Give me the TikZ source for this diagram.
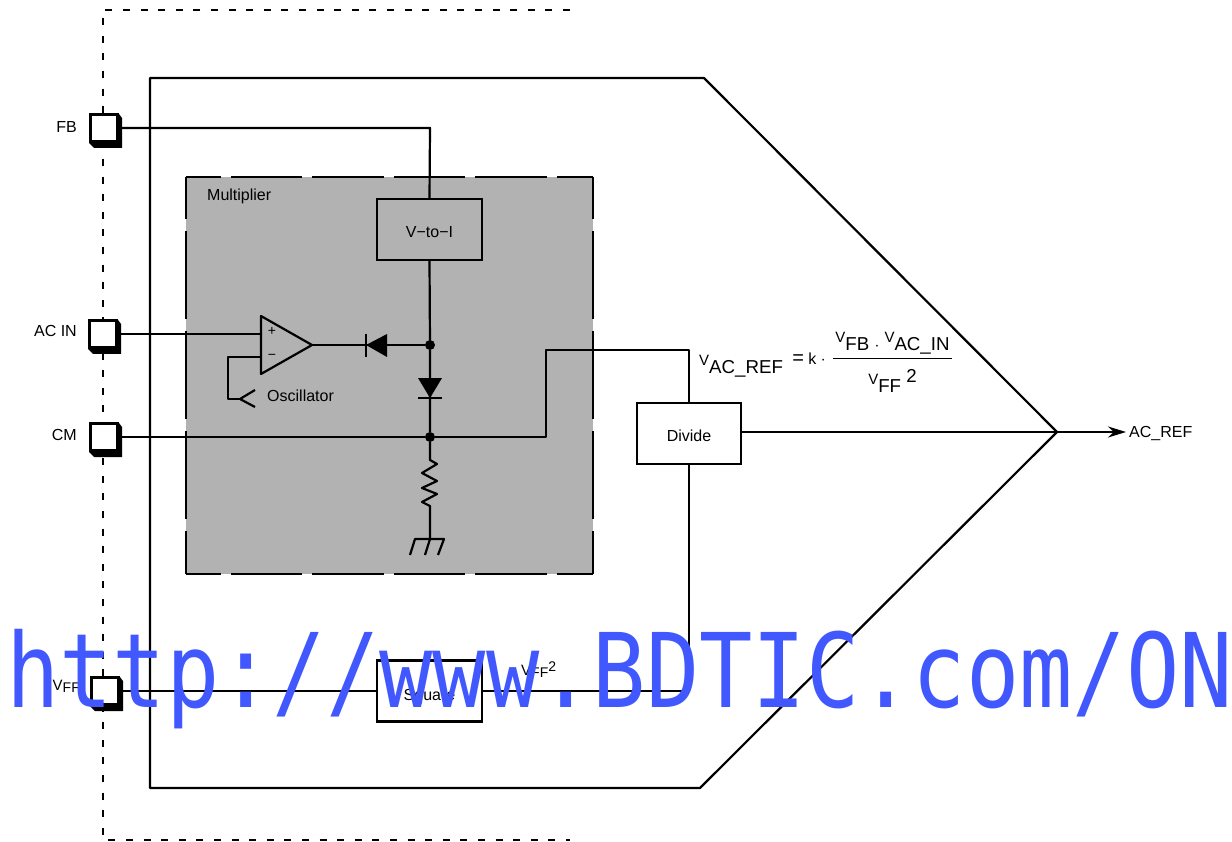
\documentclass[tikz,border=0pt]{standalone}
\usepackage{fontspec}
\setmainfont{Liberation Sans}
\newfontfamily\wmfont[FakeStretch=0.86]{DejaVu Sans Mono}
\usetikzlibrary{arrows.meta,calc,positioning}
\definecolor{mulgray}{HTML}{B2B2B2}
\definecolor{wmblue}{HTML}{4258FF}
\tikzset{
 wire/.style={line width=2.2pt,line join=round},
 hdash/.style={line width=2.2pt,dash pattern=on 71.4pt off 10pt,dash phase=36.4pt},
 vdash/.style={line width=2.2pt,dash pattern=on 88pt off 12pt,dash phase=46pt},
 blockbox/.style={draw,line width=2.2pt,minimum width=104.5pt,minimum height=61pt,inner sep=0pt,font=\fontsize{16}{16}\selectfont},
 pinbox/.style={draw,fill=white,line width=2.2pt,minimum size=27pt,inner sep=0pt},
 junction/.style={circle,fill=black,minimum size=10pt,inner sep=0pt},
 lbl/.style={inner sep=0pt,font=\fontsize{16}{16}\selectfont},
 eqn/.style={inner sep=0pt,font=\fontsize{18.7}{18.7}\selectfont}
}
\newcommand{\smallv}{\raisebox{8pt}{\fontsize{15}{15}\selectfont V}}
\newcommand{\pinat}[3]{
 \fill (#2,#3)++(-14,-14)--++(29,0)--++(3,4)--++(0,30)--++(-28,0)--++(-5,-5)--cycle;
 \node[pinbox] (#1) at (#2,#3) {};
}
\begin{document}
\begin{tikzpicture}[x=1pt,y=-1pt,>=stealth]
 \useasboundingbox (0,0) rectangle (1232,842);
 % package edge
 \draw[line width=2.2pt,dash pattern=on 7pt off 10.6pt] (570,10)--(103,10)--(103,840)--(570,840);
 % outer outline
 \draw[wire] (150,78)--(704,78)--(1057,432)--(700,788)--(150,788)--cycle;
 % multiplier block
 \fill[mulgray] (186,177) rectangle (593,574);
 \draw[hdash] (186,177)--(593,177);
 \draw[hdash] (186,574)--(593,574);
 \draw[vdash] (186,177)--(186,574);
 \draw[vdash] (593,177)--(593,574);
 \node[lbl,right] (mul) at (207,196) {Multiplier};

 \node[blockbox] (vtoi) at (429.5,229.5) {\smash{\raisebox{-8pt}{V\textminus to\textminus I}}};
 \node[blockbox] (divide) at (689,433.5) {\smash{\raisebox{-8pt}{Divide}}};
 \node[blockbox] (square) at (429.5,691) {\smash{\raisebox{-9.7pt}{Square}}};

 \coordinate (top) at (430,128);
 \coordinate (cmtop) at (546,350);
 \coordinate (divtop) at (689,350);
 \coordinate (divlow) at (689,691);
 \coordinate (apex) at (1057,432);
 \coordinate (acout) at (1126,432);
 \coordinate (ampin) at (261,334);

 \node[junction] (jtop) at (430,345) {};
 \node[junction] (jcm) at (430,437) {};
 \coordinate (cmup) at (546,437);

 % pins
 \pinat{fb}{104}{128}
 \pinat{acin}{103}{334}
 \pinat{cm}{104}{437}
 \pinat{vff}{105}{691}
 \draw[wire] (fb.east)--(top)--(vtoi.north);
 \draw[wire] (acin.east)--(ampin);
 \draw[wire] (cm.east)--(jcm)--(cmup)--(cmtop)--(divtop)--(divtop|-divide.north);
 \draw[wire] (vff.east)--(square.west);
 \draw[wire] (square.east)--(divlow)--(divlow|-divide.south);
 \draw[wire] (vtoi.south)--(jtop)--(jcm);
 \draw[wire] (divide.east|-apex)--(apex);
 \draw[wire,-{Stealth[length=18pt,width=11pt]}] (apex)--(acout);
 \node[lbl,left] (fblbl) at (77,127) {FB};
 \node[lbl,left] (acinlbl) at (77,331) {AC IN};
 \node[lbl,left] (cmlbl) at (77,435) {CM};
 \node[lbl,left] (vfflbl) at (80,686) {\raisebox{2pt}{\fontsize{15}{15}\selectfont V}\fontsize{14}{14}\selectfont FF};

 % amplifier
 \draw[wire,fill=mulgray] (261,316)--(312,345)--(261,374)--cycle;
 \node[lbl] (plus) at (272,331) {\fontsize{14}{14}\selectfont +};
 \node[lbl] (minus) at (272,357) {\fontsize{14}{14}\selectfont \textminus};
 \coordinate (fbk) at (228,357);
 \coordinate (fbkl) at (228,399);
 \coordinate (osc) at (240,399);
 \draw[wire] (261,357)--(fbk)--(fbkl)--(osc);
 \draw[wire] (255,390)--(osc)--(255,407);
 \node[lbl,right] (osclbl) at (267,396) {Oscillator};

 % diodes
 \draw[wire] (312,345)--(jtop);
 \fill (366,345)--(387,334)--(387,357)--cycle;
 \draw[wire] (366,334)--(366,357);
 \fill (430,398)--(418,378)--(442,378)--cycle;
 \draw[wire] (418,398)--(442,398);

 % resistor and ground
 \draw[wire] (jcm)--(430,460)--(437,464)--(422,473)--(437,481)--(422,488)--(437,494)--(422,502)--(430,506)--(430,539);
 \draw[wire] (410,555)--(415,539)--(444,539)--(438,555);
 \draw[wire] (430,539)--(425,555);

 \node[lbl,right] (acref) at (1129,434) {AC\_REF};
 \node[lbl,right] (vffsq) at (521,670) {\raisebox{2pt}{\fontsize{15}{15}\selectfont V}\fontsize{14}{14}\selectfont FF\raisebox{6pt}{2}};

 % equation
 \node[eqn,right] (lhs) at (699,366) {\smallv AC\_REF};
 \node[lbl] (eq) at (809,359) {{\fontsize{20}{20}\selectfont =} k $\cdot$};
 \coordinate (fracl) at (833,359);
 \coordinate (fracr) at (952,359);
 \draw[line width=1pt] (fracl)--(fracr);
 \node[eqn,anchor=south] (num) at (892.5,354) {\smallv FB {\fontsize{18}{18}\selectfont$\cdot$} \smallv AC\_IN};
 \node[eqn,anchor=north] (den) at (892.5,369) {\smallv FF \raisebox{10pt}{2}};

 % watermark
 \node[inner sep=0pt,anchor=base west,text=wmblue] (wm) at (6,707) {\fontsize{103}{103}\selectfont\wmfont http://www.BDTIC.com/ON};
\end{tikzpicture}
\end{document}
